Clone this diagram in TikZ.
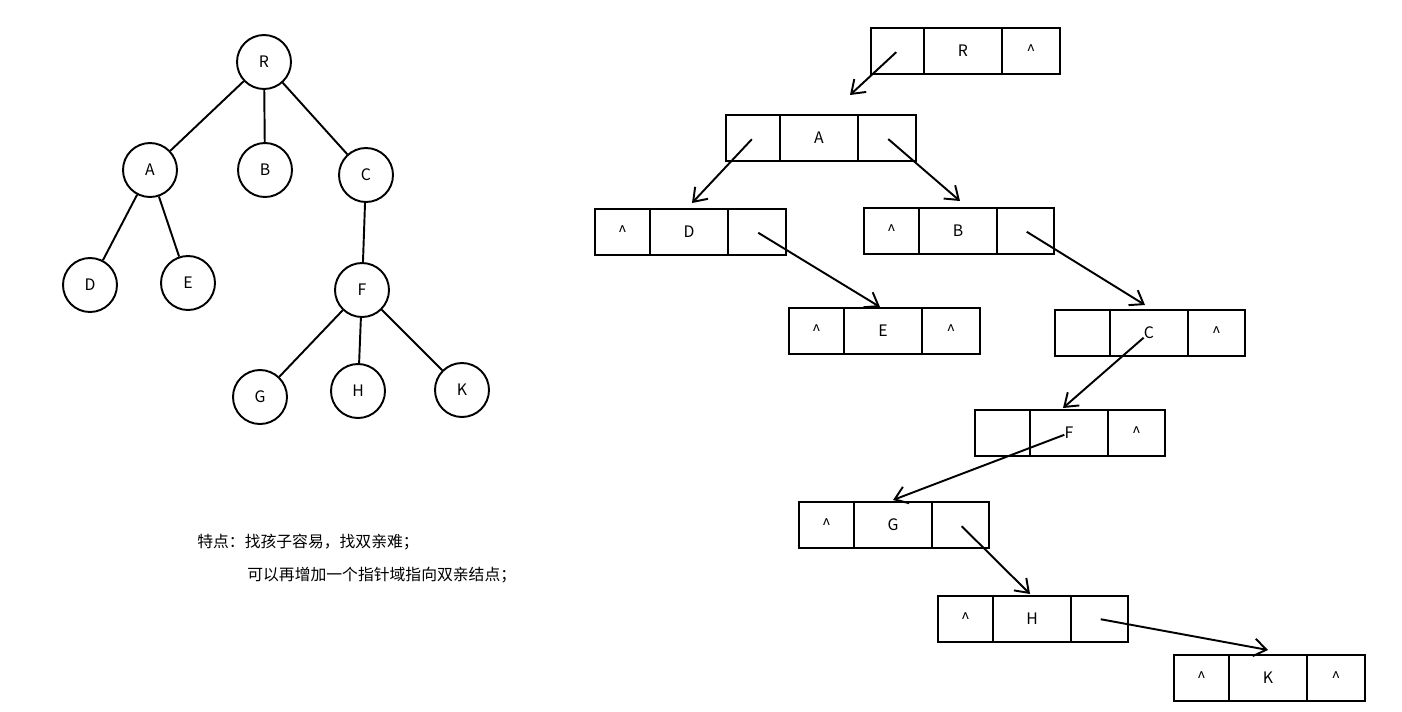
\documentclass[tikz,border=0pt]{standalone}
\usepackage{fontspec}
\setmainfont{Noto Sans CJK SC}
\usetikzlibrary{arrows.meta}
\newcommand\lbox[9]{%
  \draw[boxline] (#2,#6) rectangle (#5,#6+46);
  \draw[boxline] (#3,#6) -- (#3,#6+46) (#4,#6) -- (#4,#6+46);
  \node[lbl] (#1a) at ({(#2+#3)/2},#6+23) {#7};
  \node[lbl] (#1b) at ({(#3+#4)/2},#6+23) {#8};
  \node[lbl] (#1c) at ({(#4+#5)/2},#6+23) {#9};
}
\begin{document}
\begin{tikzpicture}[x=0.02cm,y=-0.02cm,
  boxline/.style={line width=1.1pt},
  lbl/.style={font=\fontsize{9}{11}\selectfont,inner sep=0pt},
  tn/.style={circle,draw,line width=1.1pt,minimum size=1.08cm,inner sep=0pt,font=\fontsize{9}{11}\selectfont},
  edge/.style={line width=1.1pt},
  arr/.style={line width=1.1pt,-{Straight Barb[length=7pt,width=10pt]}}]
\useasboundingbox (0,0) rectangle (1402,711);
% tree
\node[tn] (R) at (264,62) {R};
\node[tn] (A) at (150,170) {A};
\node[tn] (B) at (265,170) {B};
\node[tn] (C) at (366,175) {C};
\node[tn] (D) at (90,285) {D};
\node[tn] (E) at (188,283) {E};
\node[tn] (F) at (362,290) {F};
\node[tn] (G) at (260,397) {G};
\node[tn] (H) at (358,391) {H};
\node[tn] (K) at (462,390) {K};
\foreach \a/\b in {R/A,R/B,R/C,A/D,A/E,C/F,F/G,F/H,F/K} \draw[edge] (\a) -- (\b);
% lists
\lbox{r}{871}{924}{1002}{1060}{28}{}{R}{\^{}}
\lbox{a}{726}{780}{858}{916}{115}{}{A}{}
\lbox{d}{595}{650}{728}{786}{209}{\^{}}{D}{}
\lbox{b}{864}{919}{997}{1054}{208}{\^{}}{B}{}
\lbox{e}{789}{844}{922}{980}{308}{\^{}}{E}{\^{}}
\lbox{c}{1055}{1110}{1188}{1245}{310}{}{C}{\^{}}
\lbox{f}{975}{1030}{1108}{1165}{410}{}{F}{\^{}}
\lbox{g}{799}{854}{932}{989}{502}{\^{}}{G}{}
\lbox{h}{938}{993}{1071}{1128}{596}{\^{}}{H}{}
\lbox{k}{1174}{1229}{1307}{1365}{655}{\^{}}{K}{\^{}}
\coordinate (t1) at (850,95);
\coordinate (t2) at (692,203);
\coordinate (t3) at (960,201);
\coordinate (t4) at (880,307);
\coordinate (t5) at (1145,305);
\coordinate (t6) at (1063,408);
\coordinate (t7) at (893,500);
\coordinate (t8) at (1030,594);
\coordinate (t9) at (1268,650);
\draw[arr] ([shift={(2,0)}]ra) -- (t1);
\draw[arr] ([shift={(2,-3)}]aa) -- (t2);
\draw[arr] ([shift={(4,-6)}]ac) -- (t3);
\draw[arr] ([shift={(1,-8)}]dc) -- (t4);
\draw[arr] ([shift={(5,-9)}]bc) -- (t5);
\draw[arr] ([shift={(-2,-28)}]cb) -- (t6);
\draw[arr] ([shift={(2,-18)}]fb) -- (t7);
\draw[arr] ([shift={(4,-5)}]gc) -- (t8);
\draw[arr] ([shift={(0,-5)}]hc) -- (t9);
\node[lbl,anchor=west] (n1) at (197,542) {特点：找孩子容易，找双亲难；};
\node[lbl,anchor=west] (n2) at (247,575) {可以再增加一个指针域指向双亲结点；};
\end{tikzpicture}
\end{document}
